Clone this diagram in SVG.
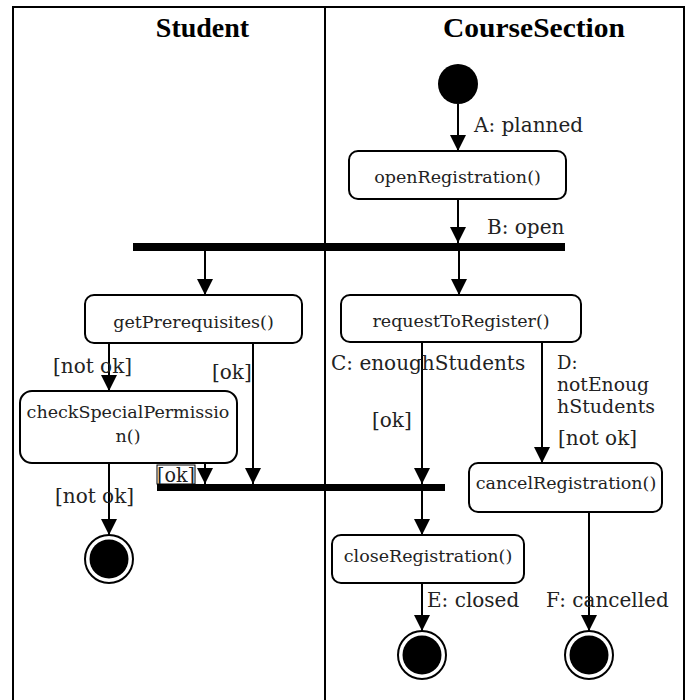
<svg xmlns="http://www.w3.org/2000/svg" width="692" height="700" viewBox="0 0 692 700">
<defs>
<marker id="ah" viewBox="0 0 16 16" refX="16" refY="8" markerWidth="16" markerHeight="16" markerUnits="userSpaceOnUse" orient="auto">
<path d="M0,0 L16,8 L0,16 z" fill="#000"/>
</marker>
<style>
.lane{fill:none;stroke:#000;stroke-width:2}
.hdr{font-family:"Liberation Serif","Times New Roman",serif;font-weight:bold;font-size:28px;fill:#000;text-anchor:middle}
.box{fill:#fff;stroke:#000;stroke-width:2}
.t{font-family:"DejaVu Serif","Liberation Serif",serif;font-size:17.5px;fill:#222;text-anchor:middle}
.lbl{font-family:"DejaVu Serif","Liberation Serif",serif;font-size:20px;fill:#222}
.lbls{font-family:"DejaVu Serif","Liberation Serif",serif;font-size:18px;fill:#222}
.edge{fill:none;stroke:#000;stroke-width:2;marker-end:url(#ah)}
.bar{fill:#000}
.fin-o{fill:#fff;stroke:#000;stroke-width:2}
.fin-i{fill:#000}
</style>
</defs>
<rect width="692" height="700" fill="#fff"/>
<g id="swimlanes">
<path class="lane" d="M13,710 L13,7 L684,7 L684,710"/>
<line class="lane" x1="325" y1="7" x2="325" y2="710"/>
<text class="hdr" x="202.5" y="37">Student</text>
<text class="hdr" x="534" y="37" textLength="182" lengthAdjust="spacingAndGlyphs">CourseSection</text>
</g>
<g id="initial"><circle cx="458" cy="84" r="20" fill="#000"/></g>
<g id="openRegistration"><rect class="box" x="349" y="151" width="217" height="48" rx="9"/><text class="t" x="457.5" y="183">openRegistration()</text></g>
<g id="fork"><rect class="bar" x="133" y="243" width="432" height="8"/></g>
<g id="getPrerequisites"><rect class="box" x="85" y="295" width="217" height="48" rx="9"/><text class="t" x="193.5" y="328">getPrerequisites()</text></g>
<g id="requestToRegister"><rect class="box" x="341" y="295" width="240" height="47" rx="9"/><text class="t" x="461" y="327">requestToRegister()</text></g>
<g id="checkSpecialPermission"><rect class="box" x="20" y="391" width="217" height="72" rx="12"/><text class="t" x="128" y="418">checkSpecialPermissio</text><text class="t" x="128" y="442">n()</text></g>
<g id="cancelRegistration"><rect class="box" x="469" y="463" width="193" height="49" rx="9"/><text class="t" x="566" y="489">cancelRegistration()</text></g>
<g id="closeRegistration"><rect class="box" x="332" y="535" width="192" height="48" rx="9"/><text class="t" x="428" y="562">closeRegistration()</text></g>
<g id="final1"><circle class="fin-o" cx="109" cy="559" r="24"/><circle class="fin-i" cx="109" cy="559" r="19.5"/></g>
<g id="final2"><circle class="fin-o" cx="422" cy="655" r="24"/><circle class="fin-i" cx="422" cy="655" r="19.5"/></g>
<g id="final3"><circle class="fin-o" cx="589" cy="655" r="24"/><circle class="fin-i" cx="589" cy="655" r="19.5"/></g>
<g id="connectors">
<line class="edge" x1="458" y1="104" x2="458" y2="151"/>
<line class="edge" x1="458" y1="199" x2="458" y2="243"/>
<line class="edge" x1="205" y1="251" x2="205" y2="295"/>
<line class="edge" x1="459" y1="251" x2="459" y2="295"/>
<line class="edge" x1="109" y1="343" x2="109" y2="391"/>
<line class="edge" x1="253" y1="343" x2="253" y2="484"/>
<line class="edge" x1="205" y1="463" x2="205" y2="484"/>
<line class="edge" x1="109" y1="463" x2="109" y2="535"/>
<line class="edge" x1="422" y1="342" x2="422" y2="484"/>
<line class="edge" x1="422" y1="491" x2="422" y2="535"/>
<line class="edge" x1="542" y1="342" x2="542" y2="463"/>
<line class="edge" x1="422" y1="583" x2="422" y2="631"/>
<line class="edge" x1="589" y1="512" x2="589" y2="631"/>
</g>
<g id="labels">
<text class="lbl" x="474" y="132">A: planned</text>
<text class="lbl" x="487" y="234">B: open</text>
<text class="lbl" x="53" y="373">[not ok]</text>
<text class="lbl" x="212" y="379">[ok]</text>
<rect x="157" y="465" width="38" height="19" fill="#fff" stroke="#000" stroke-width="1"/>
<text class="lbl" x="157" y="482" textLength="38" lengthAdjust="spacingAndGlyphs">[ok]</text>
<text class="lbl" x="55" y="503">[not ok]</text>
<text class="lbl" x="331" y="370">C: enoughStudents</text>
<text class="lbl" x="372" y="427">[ok]</text>
<text class="lbls" x="557" y="369">D:</text>
<text class="lbls" x="557" y="391" textLength="92" lengthAdjust="spacingAndGlyphs">notEnoug</text>
<text class="lbls" x="557" y="413" textLength="98" lengthAdjust="spacingAndGlyphs">hStudents</text>
<text class="lbl" x="558" y="445">[not ok]</text>
<text class="lbl" x="427" y="607">E: closed</text>
<text class="lbl" x="546" y="607">F: cancelled</text>
</g>
<g id="join"><rect class="bar" x="157" y="484" width="288" height="7"/></g>
</svg>
